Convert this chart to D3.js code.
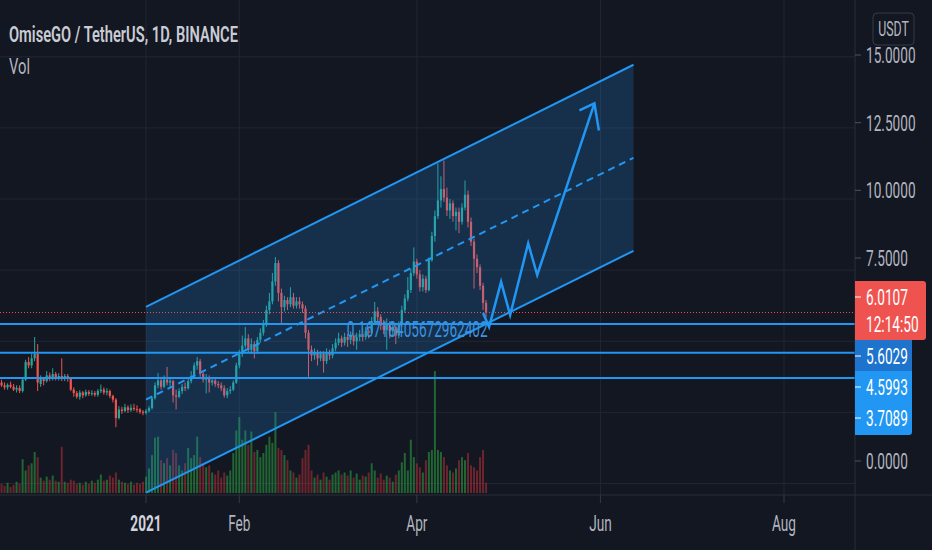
<!DOCTYPE html>
<html>
<head>
<meta charset="utf-8">
<script src="https://cdn.jsdelivr.net/npm/d3@7"></script>
<style>
body { margin: 0; background: #131722; overflow: hidden; }
svg { display: block; font-family: Roboto, "Noto Sans", sans-serif; }
</style>
</head>
<body>
<script>
// OMG/USDT daily candles, one per day from firstDay: [open, high, low, close]
var firstDay = "2020-11-14";
var candles = [
    [3.55, 3.65, 3.40, 3.45], [3.45, 3.55, 3.30, 3.38], [3.38, 3.52, 3.30, 3.47], [3.47, 3.58, 3.35, 3.40],
    [3.40, 3.50, 3.25, 3.30], [3.30, 3.45, 3.20, 3.36], [3.36, 3.45, 3.18, 3.25], [3.25, 3.72, 3.20, 3.65],
    [3.65, 4.35, 3.60, 4.27], [4.27, 4.45, 4.05, 4.15], [4.15, 4.55, 4.05, 4.40], [4.40, 5.15, 4.30, 4.55],
    [4.55, 4.90, 3.25, 3.55], [3.50, 3.80, 3.40, 3.68], [3.68, 3.75, 3.45, 3.60], [3.60, 3.95, 3.55, 3.80],
    [3.80, 3.90, 3.60, 3.70], [3.70, 4.05, 3.62, 3.85], [3.85, 3.92, 3.62, 3.72], [3.72, 3.88, 3.62, 3.78],
    [3.78, 4.40, 3.60, 3.70], [3.70, 3.85, 3.60, 3.78], [3.78, 3.85, 3.58, 3.68], [3.68, 3.72, 3.25, 3.30],
    [3.30, 3.38, 3.05, 3.18], [3.18, 3.25, 2.98, 3.05], [3.05, 3.28, 2.95, 3.20], [3.20, 3.25, 3.00, 3.10],
    [3.10, 3.30, 3.05, 3.22], [3.22, 3.28, 3.08, 3.15], [3.15, 3.28, 3.08, 3.18], [3.18, 3.25, 3.05, 3.12],
    [3.12, 3.32, 3.05, 3.25], [3.25, 3.48, 3.18, 3.30], [3.30, 3.38, 3.12, 3.20], [3.20, 3.35, 3.10, 3.25],
    [3.25, 3.30, 3.00, 3.08], [3.08, 3.12, 2.85, 2.95], [2.95, 3.00, 1.98, 2.30], [2.30, 2.72, 2.25, 2.60],
    [2.60, 2.70, 2.45, 2.55], [2.55, 2.80, 2.50, 2.68], [2.68, 2.75, 2.48, 2.58], [2.58, 2.78, 2.52, 2.66],
    [2.66, 2.80, 2.55, 2.62], [2.62, 2.75, 2.50, 2.60], [2.60, 2.65, 2.45, 2.52], [2.52, 2.58, 2.40, 2.48],
    [2.48, 2.62, 2.42, 2.55], [2.55, 2.72, 2.50, 2.65], [2.65, 3.05, 2.60, 3.00], [3.00, 3.55, 2.95, 3.45],
    [3.45, 3.88, 3.35, 3.62], [3.62, 3.75, 3.30, 3.40], [3.40, 3.80, 3.35, 3.65], [3.65, 4.10, 3.45, 3.55],
    [3.55, 3.70, 3.40, 3.60], [3.60, 3.65, 2.85, 3.10], [3.10, 3.30, 2.60, 3.05], [3.05, 3.35, 3.00, 3.25],
    [3.25, 3.50, 3.15, 3.40], [3.40, 3.55, 3.25, 3.35], [3.35, 3.70, 3.30, 3.60], [3.60, 3.95, 3.52, 3.75],
    [3.75, 4.25, 3.70, 4.15], [4.15, 4.45, 4.00, 4.30], [4.30, 4.38, 3.75, 3.85], [3.85, 3.95, 3.55, 3.65],
    [3.65, 3.85, 3.17, 3.72], [3.72, 3.80, 3.20, 3.55], [3.55, 3.72, 3.45, 3.62], [3.62, 3.70, 3.40, 3.50],
    [3.50, 3.60, 3.35, 3.45], [3.45, 3.55, 3.25, 3.35], [3.35, 3.45, 3.02, 3.10], [3.10, 3.35, 3.00, 3.25],
    [3.25, 3.42, 3.15, 3.30], [3.30, 3.62, 3.25, 3.55], [3.55, 4.25, 3.50, 4.15], [4.15, 4.70, 4.05, 4.55],
    [4.55, 5.20, 4.45, 4.85], [4.85, 5.50, 4.75, 5.10], [5.10, 5.25, 4.60, 4.70], [4.70, 5.10, 4.55, 4.90],
    [4.90, 5.00, 4.40, 4.65], [4.65, 5.15, 4.55, 5.05], [5.05, 5.45, 4.95, 5.30], [5.30, 5.75, 5.20, 5.60],
    [5.60, 6.25, 5.50, 6.10], [6.10, 6.70, 5.95, 6.40], [6.40, 7.40, 6.30, 7.10], [7.10, 7.96, 6.95, 7.75],
    [7.75, 7.85, 6.40, 6.70], [6.70, 6.85, 5.60, 6.20], [6.20, 6.60, 6.05, 6.45], [6.45, 6.55, 6.10, 6.30],
    [6.30, 6.90, 6.20, 6.55], [6.55, 6.70, 6.15, 6.25], [6.25, 6.55, 6.15, 6.40], [6.40, 6.55, 6.15, 6.30],
    [6.30, 6.40, 6.00, 6.15], [6.15, 6.25, 5.10, 5.30], [5.30, 5.40, 3.75, 4.70], [4.70, 4.85, 4.30, 4.50],
    [4.50, 4.75, 4.35, 4.60], [4.60, 4.70, 4.15, 4.40], [4.40, 4.65, 4.30, 4.55], [4.55, 4.65, 3.90, 4.30],
    [4.30, 4.75, 4.20, 4.60], [4.60, 4.70, 4.35, 4.50], [4.50, 4.90, 4.40, 4.75], [4.75, 5.10, 4.65, 4.95],
    [4.95, 5.30, 4.85, 5.10], [5.10, 5.20, 4.80, 4.95], [4.95, 5.30, 4.85, 5.15], [5.15, 5.25, 4.80, 5.05],
    [5.05, 5.35, 4.90, 5.20], [5.20, 5.30, 4.85, 5.00], [5.00, 5.30, 4.70, 5.15], [5.15, 5.40, 5.00, 5.25],
    [5.25, 5.45, 5.00, 5.15], [5.15, 5.50, 5.05, 5.35], [5.35, 5.45, 5.10, 5.30], [5.30, 5.85, 5.25, 5.70],
    [5.70, 6.38, 5.60, 6.05], [6.05, 6.20, 5.70, 5.85], [5.85, 5.95, 5.40, 5.55], [5.55, 5.75, 5.25, 5.40],
    [5.40, 5.80, 4.70, 5.60], [5.60, 5.70, 5.10, 5.35], [5.35, 5.65, 5.20, 5.50], [5.50, 5.60, 4.90, 5.20],
    [5.20, 5.70, 5.10, 5.60], [5.60, 6.25, 5.50, 6.10], [6.10, 6.65, 6.00, 6.50], [6.50, 7.26, 6.40, 6.80],
    [6.80, 7.55, 6.70, 7.40], [7.40, 8.30, 7.30, 7.80], [7.80, 7.90, 7.20, 7.35], [7.35, 7.50, 6.75, 6.90],
    [6.90, 7.35, 6.75, 7.20], [7.20, 7.30, 6.70, 6.80], [6.80, 7.95, 6.75, 7.85], [7.85, 8.85, 7.80, 8.70],
    [8.70, 9.60, 8.50, 9.40], [9.40, 11.25, 9.30, 9.95], [9.95, 10.80, 9.70, 10.35], [10.35, 11.35, 9.90, 10.05],
    [10.05, 10.40, 9.40, 9.60], [9.60, 10.00, 9.30, 9.85], [9.85, 9.95, 9.20, 9.40], [9.40, 9.70, 8.90, 9.55],
    [9.55, 9.70, 8.80, 9.20], [9.20, 9.85, 9.10, 9.70], [9.70, 10.65, 9.60, 10.15], [10.15, 10.30, 9.00, 9.20],
    [9.20, 9.35, 8.35, 8.50], [8.50, 8.60, 6.85, 7.90], [7.90, 8.05, 7.40, 7.60], [7.60, 7.70, 6.80, 6.95],
    [6.95, 7.05, 6.10, 6.35], [6.35, 6.45, 5.85, 6.0107]
];

// volume, millions
var volumes = [
    0.9, 0.7, 1.0, 0.6, 0.8, 1.1, 0.9, 3.3, 2.2, 2.7, 2.9, 4.0, 3.5,
    1.5, 1.2, 1.6, 1.3, 1.7, 1.2, 1.1, 4.5, 1.1, 1.0, 1.3, 1.2, 0.9, 1.0, 0.8, 1.1, 0.9, 1.2, 1.0, 1.3,
    1.8, 1.2, 1.3, 1.7, 1.5, 2.0, 1.3, 1.1, 1.0, 0.9, 1.1, 0.8, 1.0, 0.9, 1.1,
    1.6, 2.4, 3.7, 5.4, 5.5, 3.2, 2.9, 3.4, 2.7, 4.2,
    3.9, 2.7, 2.2, 2.9, 4.4, 3.4, 3.7, 5.5, 3.5, 2.9,
    2.5, 2.7, 2.0, 1.8, 2.2, 1.5, 2.0, 1.7, 2.2, 3.9,
    6.1, 7.4, 5.2, 6.1, 4.7, 6.0, 4.0, 4.2, 3.5, 3.9,
    4.7, 5.5, 4.9, 7.9, 4.4, 4.2, 3.7, 3.2, 2.2, 2.0,
    1.5, 1.8, 3.4, 4.2, 4.7, 2.2, 1.5, 1.8, 1.3, 2.0,
    1.6, 1.3, 1.8, 2.0, 2.2, 1.8, 2.0, 1.7, 2.2, 1.5,
    1.9, 1.3, 1.7, 1.6, 2.0, 2.9, 2.2, 1.5, 1.9, 1.3,
    1.7, 1.5, 1.1, 1.8, 2.2, 3.0, 3.9, 2.2, 5.2, 3.5,
    2.9, 2.5, 2.0, 3.2, 4.0, 4.2, 11.9, 4.2, 4.0, 3.5,
    2.7, 2.2, 2.0, 2.4, 3.2, 3.5, 3.2, 3.9, 2.7, 2.5,
    2.2, 3.5, 4.2, 1.0
];

var gridValues = [0, 2.5, 5, 7.5, 10, 12.5, 15];
var priceTicks = [0, 7.5, 10, 12.5, 15];
var priceTickLabels = ["0.0000", "7.5000", "10.0000", "12.5000", "15.0000"];
var timeTicks = ["2021-01-01", "2021-02-01", "2021-04-01", "2021-06-01", "2021-08-01"];
var timeTickLabels = ["2021", "Feb", "Apr", "Jun", "Aug"];

var lastPrice = 6.0107;
var countdown = "12:14:50";
var levels = [5.6029, 4.5993, 3.7089];
var levelLabels = ["5.6029", "4.5993", "3.7089"];

// parallel channel
var channelDates = ["2021-01-01", "2021-06-12"];
var channelUpper = [6.21, 14.72];
var channelMid = [2.95, 11.45];
var channelLower = [-0.32, 8.18];

// projected path
var pathDates = ["2021-04-23", "2021-04-25", "2021-04-29", "2021-05-02", "2021-05-08", "2021-05-11", "2021-05-30"];
var pathValues = [5.99, 5.50, 7.09, 5.92, 8.44, 7.33, 13.36];
var noteText = "0.16718405672962402";
var noteDate = "2021-04-24";
var noteValue = 5.16;

var width = 932, height = 550;
var paneRight = 855, paneBottom = 495;
var blue = "#2196f3";
var green = "#26a69a";
var red = "#ef5350";
var squeezeK = 0.62;

var parse = d3.utcParse("%Y-%m-%d");
var start = parse(firstDay);
var dates = candles.map(function (d, i) { return d3.utcDay.offset(start, i); });

var x = d3.scaleUtc()
    .domain([parse("2021-01-01"), parse("2021-08-01")])
    .range([146, 784]);
var y = d3.scaleLinear().domain([0, 15]).range([483.5, 56.8]);
// the price axis labels sit on their own slightly tighter ladder
var yLabel = d3.scaleLinear().domain([0, 15]).range([461, 55]);
var vy = d3.scaleLinear().domain([0, 12]).range([493, 370]);

var svg = d3.select("body")
    .append("svg")
    .attr("width", width)
    .attr("height", height);

// text in the picture is narrow: draw it at (px, py) squeezed horizontally,
// optionally to a fixed target width
function label(parent, px, py, str, style, target) {
    var t = parent.append("text").text(str);
    for (var k in style) t.attr(k, style[k]);
    var s = squeezeK;
    if (target) s = target / t.node().getComputedTextLength();
    t.attr("transform", "translate(" + px + "," + py + ") scale(" + s + ",1)");
    return t;
}

svg.append("rect").attr("width", width).attr("height", height).attr("fill", "#131722");

svg.append("clipPath").attr("id", "pane")
    .append("rect").attr("width", paneRight).attr("height", paneBottom);

var pane = svg.append("g").attr("clip-path", "url(#pane)");

// grid
pane.selectAll(".hgrid")
    .data(gridValues)
    .enter()
    .append("line")
    .attr("x1", 0)
    .attr("x2", paneRight)
    .attr("y1", function (d) { return y(d); })
    .attr("y2", function (d) { return y(d); })
    .attr("stroke", "#232632")
    .attr("stroke-width", 1);

pane.selectAll(".vgrid")
    .data(timeTicks)
    .enter()
    .append("line")
    .attr("x1", function (d) { return x(parse(d)); })
    .attr("x2", function (d) { return x(parse(d)); })
    .attr("y1", 0)
    .attr("y2", paneBottom)
    .attr("stroke", "#232632")
    .attr("stroke-width", 1);

// volume
pane.append("g")
    .selectAll("rect")
    .data(volumes)
    .enter()
    .append("rect")
    .attr("x", function (d, i) { return x(dates[i]) - 1; })
    .attr("width", 2)
    .attr("y", function (d) { return vy(d); })
    .attr("height", function (d) { return vy(0) - vy(d); })
    .attr("fill", function (d, i) {
        return candles[i][3] >= candles[i][0] ? "rgba(40,150,60,0.62)" : "rgba(200,50,55,0.5)";
    });

// candles
var cg = pane.append("g");
cg.selectAll("line")
    .data(candles)
    .enter()
    .append("line")
    .attr("x1", function (d, i) { return x(dates[i]); })
    .attr("x2", function (d, i) { return x(dates[i]); })
    .attr("y1", function (d) { return y(d[1]); })
    .attr("y2", function (d) { return y(d[2]); })
    .attr("stroke", function (d) { return d[3] >= d[0] ? green : red; })
    .attr("stroke-width", 1);

cg.selectAll("rect")
    .data(candles)
    .enter()
    .append("rect")
    .attr("x", function (d, i) { return x(dates[i]) - 1.1; })
    .attr("width", 2.2)
    .attr("y", function (d) { return y(Math.max(d[0], d[3])); })
    .attr("height", function (d) { return Math.max(1, Math.abs(y(d[0]) - y(d[3]))); })
    .attr("fill", function (d) { return d[3] >= d[0] ? green : red; });

// channel
var channel = channelDates.map(function (d, i) {
    return { date: parse(d), up: channelUpper[i], mid: channelMid[i], low: channelLower[i] };
});

pane.append("path")
    .datum(channel)
    .attr("d", d3.area()
        .x(function (d) { return x(d.date); })
        .y0(function (d) { return y(d.low); })
        .y1(function (d) { return y(d.up); }))
    .attr("fill", "rgba(33,150,243,0.2)");

["up", "low", "mid"].forEach(function (k) {
    pane.append("path")
        .datum(channel)
        .attr("d", d3.line()
            .x(function (d) { return x(d.date); })
            .y(function (d) { return y(d[k]); }))
        .attr("fill", "none")
        .attr("stroke", blue)
        .attr("stroke-width", 2)
        .attr("stroke-dasharray", k === "mid" ? "7,5" : null);
});

// horizontal levels
pane.selectAll(".level")
    .data(levels)
    .enter()
    .append("line")
    .attr("x1", 0)
    .attr("x2", paneRight)
    .attr("y1", function (d) { return y(d); })
    .attr("y2", function (d) { return y(d); })
    .attr("stroke", blue)
    .attr("stroke-width", 2);

// last price line
pane.append("line")
    .attr("x1", 0)
    .attr("x2", paneRight)
    .attr("y1", y(lastPrice))
    .attr("y2", y(lastPrice))
    .attr("stroke", red)
    .attr("stroke-width", 1)
    .attr("stroke-dasharray", "1,2");

// projected zigzag with arrow
var pts = pathDates.map(function (d, i) { return [x(parse(d)), y(pathValues[i])]; });
pane.append("path")
    .attr("d", d3.line()(pts))
    .attr("fill", "none")
    .attr("stroke", blue)
    .attr("stroke-width", 2.5)
    .attr("stroke-linejoin", "miter");

var tip = pts[pts.length - 1];
pane.append("path")
    .attr("d", d3.line()([[tip[0] - 15, tip[1] + 7], tip, [tip[0] + 4.5, tip[1] + 27]]))
    .attr("fill", "none")
    .attr("stroke", blue)
    .attr("stroke-width", 2.5);

label(pane, x(parse(noteDate)) + 1.5, y(noteValue), noteText,
    { "text-anchor": "end", "font-size": 22, "fill": "#3b93e0" }, 141);

// header
label(svg, 9, 42, "OmiseGO / TetherUS, 1D, BINANCE",
    { "font-size": 22, "font-weight": 600, "fill": "#c9ccd4" }, 229);
label(svg, 9, 74, "Vol", { "font-size": 22, "fill": "#b2b5be" }, 21);

// axes frame
svg.append("line")
    .attr("x1", paneRight).attr("x2", paneRight)
    .attr("y1", 0).attr("y2", height)
    .attr("stroke", "#2a2e39");
svg.append("line")
    .attr("x1", 0).attr("x2", width)
    .attr("y1", paneBottom).attr("y2", paneBottom)
    .attr("stroke", "#2a2e39");

// time axis
svg.selectAll(".xtick")
    .data(timeTicks)
    .enter()
    .append("line")
    .attr("x1", function (d) { return x(parse(d)); })
    .attr("x2", function (d) { return x(parse(d)); })
    .attr("y1", paneBottom)
    .attr("y2", paneBottom + 8)
    .attr("stroke", "#363a45");

timeTicks.forEach(function (d, i) {
    label(svg, x(parse(d)), 531, timeTickLabels[i], {
        "text-anchor": "middle",
        "font-size": 22,
        "font-weight": i === 0 ? 700 : 400,
        "fill": i === 0 ? "#d1d4dc" : "#b2b5be"
    });
});

// price axis
svg.selectAll(".ytick")
    .data(priceTicks)
    .enter()
    .append("line")
    .attr("x1", paneRight)
    .attr("x2", paneRight + 6)
    .attr("y1", function (d) { return yLabel(d); })
    .attr("y2", function (d) { return yLabel(d); })
    .attr("stroke", "#50535e");

priceTicks.forEach(function (d, i) {
    label(svg, 866, yLabel(d) + 8, priceTickLabels[i], { "font-size": 22, "fill": "#b2b5be" });
});

// currency badge
svg.append("rect")
    .attr("x", 873).attr("y", 13)
    .attr("width", 41).attr("height", 32)
    .attr("rx", 4)
    .attr("fill", "none")
    .attr("stroke", "#363a45");
label(svg, 893.5, 36, "USDT", { "text-anchor": "middle", "font-size": 20, "fill": "#b2b5be" });

// last price badge with countdown
var priceTop = y(lastPrice) - 31.5;
svg.append("path")
    .attr("d", "M" + paneRight + "," + priceTop + "h68a3,3 0 0 1 3,3v53a3,3 0 0 1 -3,3h-68z")
    .attr("fill", red);
svg.append("line")
    .attr("x1", paneRight).attr("x2", paneRight + 6)
    .attr("y1", priceTop + 16).attr("y2", priceTop + 16)
    .attr("stroke", "#ffffff");
label(svg, 866, priceTop + 24, lastPrice.toFixed(4), { "font-size": 22, "fill": "#ffffff" });
label(svg, 866, priceTop + 51, countdown, { "font-size": 22, "fill": "#ffffff" });

// level badges stacked under the price badge
var badgeTop = priceTop + 59;
levels.forEach(function (d, i) {
    var top = badgeTop + i * 31;
    var last = i === levels.length - 1;
    var p = last
        ? "M" + paneRight + "," + top + "h57v30a3,3 0 0 1 -3,3h-54z"
        : "M" + paneRight + "," + top + "h57v31h-57z";
    svg.append("path")
        .attr("d", p)
        .attr("fill", i === 0 ? "#1e73cc" : blue);
    svg.append("line")
        .attr("x1", paneRight).attr("x2", paneRight + 6)
        .attr("y1", top + 16).attr("y2", top + 16)
        .attr("stroke", "#ffffff");
    label(svg, 866, top + 24, levelLabels[i], { "font-size": 22, "fill": "#ffffff" });
});
</script>
</body>
</html>
